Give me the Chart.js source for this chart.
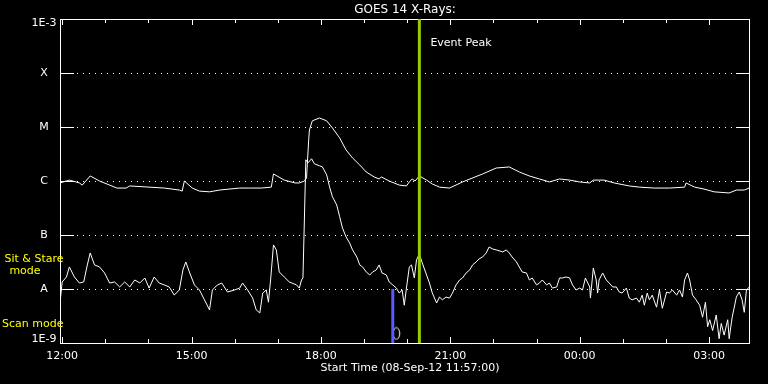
<!DOCTYPE html>
<html>
<head>
<meta charset="utf-8">
<script src="https://cdn.jsdelivr.net/npm/chart.js@4.4.1/dist/chart.umd.min.js"></script>
<style>
  html, body { margin: 0; padding: 0; background: #000; }
  canvas { display: block; }
</style>
</head>
<body>
<canvas id="goes" width="768" height="384"></canvas>
<script>
// time axis: minutes after 08-Sep-12 12:00 UT
var xMin = -3, xMax = 957;
var xHourTicks = [0, 60, 120, 180, 240, 300, 360, 420, 480, 540, 600, 660, 720, 780, 840, 900];
var xLabelMinutes = [0, 180, 360, 540, 720, 900];
var xTickLabels = ['12:00', '15:00', '18:00', '21:00', '00:00', '03:00'];

var yTickValues = [1e-9, 1e-8, 1e-7, 1e-6, 1e-5, 1e-4, 1e-3];
var yTickLabels = ['1E-9', 'A', 'B', 'C', 'M', 'X', '1E-3'];

// 1-8 A channel (upper curve)
var longTimes = [-3, 10, 24, 28, 39, 52, 66, 76, 89, 94, 121, 142, 163, 167, 170, 181, 191, 205, 219, 247,
  261, 277, 291, 294, 309, 324, 330, 337, 340, 343, 344, 348, 358, 368, 376, 386, 395, 404, 414, 423,
  434, 441, 444, 455, 469, 479, 483, 487, 491, 497, 507, 515, 525, 539, 557, 585, 604, 622, 636, 650,
  664, 678, 692, 706, 720, 734, 739, 754, 768, 789, 803, 824, 845, 866, 868, 880, 893, 907, 928, 938,
  949, 956];
var longFlux = [0.92e-6, 1.04e-6, 0.92e-6, 0.84e-6, 1.24e-6, 1.0e-6, 0.84e-6, 0.74e-6, 0.74e-6, 0.81e-6,
  0.77e-6, 0.74e-6, 0.68e-6, 0.65e-6, 1.0e-6, 0.74e-6, 0.65e-6, 0.63e-6, 0.68e-6, 0.74e-6,
  0.74e-6, 0.74e-6, 0.77e-6, 1.35e-6, 1.04e-6, 0.92e-6, 0.92e-6, 1.0e-6, 1.14e-6, 5.8e-6,
  8.8e-6, 1.3e-5, 1.47e-5, 1.3e-5, 9.6e-6, 6.3e-6, 3.76e-6, 2.67e-6, 1.98e-6, 1.47e-6,
  1.19e-6, 1.09e-6, 1.19e-6, 1.0e-6, 0.84e-6, 0.81e-6, 0.96e-6, 1.09e-6, 1.0e-6, 1.24e-6,
  1.04e-6, 0.88e-6, 0.77e-6, 0.74e-6, 0.96e-6, 1.35e-6, 1.74e-6, 1.82e-6, 1.47e-6, 1.24e-6,
  1.09e-6, 0.96e-6, 1.09e-6, 1.04e-6, 0.96e-6, 0.92e-6, 1.04e-6, 1.04e-6, 0.92e-6, 0.81e-6,
  0.77e-6, 0.74e-6, 0.74e-6, 0.77e-6, 0.92e-6, 0.77e-6, 0.71e-6, 0.63e-6, 0.60e-6, 0.68e-6,
  0.68e-6, 0.74e-6];

// 0.5-4 A channel (lower curve)
var shortTimes = [-3, 0, 6, 10, 17, 24, 30, 35, 39, 45, 52, 59, 66, 73, 80, 87, 94, 101, 108, 115,
  121, 128, 135, 142, 149, 156, 163, 168, 172, 177, 184, 191, 198, 205, 209, 216, 222, 230, 240, 247,
  251, 258, 265, 270, 275, 279, 284, 287, 290, 294, 298, 302, 309, 316, 326, 330, 333, 335, 337, 339,
  342, 347, 351, 358, 362, 368, 372, 376, 382, 386, 390, 395, 400, 404, 410, 414, 418, 423, 428, 432,
  437, 441, 445, 451, 455, 460, 465, 469, 473, 476, 479, 483, 486, 490, 493, 497, 501, 507, 511, 515,
  521, 525, 529, 534, 539, 543, 548, 553, 557, 562, 567, 571, 576, 580, 585, 590, 594, 599, 604, 613,
  618, 622, 626, 632, 636, 640, 646, 650, 654, 660, 664, 668, 674, 678, 682, 688, 692, 696, 701, 706,
  710, 715, 720, 724, 728, 734, 735, 739, 743, 745, 747, 752, 757, 761, 766, 771, 775, 779, 785, 789,
  793, 799, 803, 807, 810, 814, 817, 821, 827, 831, 835, 841, 845, 849, 855, 859, 863, 866, 870, 873,
  877, 882, 887, 891, 895, 898, 901, 905, 910, 914, 917, 921, 926, 928, 932, 938, 942, 946, 949, 952,
  956];
var shortFlux = [0.55e-8, 1.35e-8, 1.67e-8, 2.56e-8, 1.67e-8, 1.29e-8, 1.35e-8, 2.79e-8, 4.65e-8, 2.79e-8,
  2.56e-8, 1.98e-8, 1.29e-8, 1.35e-8, 1.09e-8, 1.35e-8, 1.09e-8, 1.47e-8, 1.29e-8, 1.6e-8,
  1.04e-8, 1.67e-8, 1.29e-8, 1.19e-8, 1.09e-8, 0.77e-8, 0.96e-8, 2.25e-8, 3.17e-8, 2.07e-8,
  1.19e-8, 0.96e-8, 0.63e-8, 0.41e-8, 0.96e-8, 1.19e-8, 1.29e-8, 0.88e-8, 0.96e-8, 1.04e-8,
  1.29e-8, 0.96e-8, 0.68e-8, 0.41e-8, 0.36e-8, 0.84e-8, 0.96e-8, 0.57e-8, 1.47e-8, 6.55e-8,
  5.29e-8, 2.07e-8, 1.67e-8, 1.35e-8, 1.19e-8, 1.04e-8, 1.47e-8, 1.6e-8, 1.9e-7, 2.47e-6,
  2.17e-6, 2.58e-6, 2.08e-6, 1.91e-6, 1.83e-6, 1.3e-6, 7.8e-7, 5.1e-7, 3.6e-7, 2.2e-7,
  1.35e-7, 9.2e-8, 7.1e-8, 5.3e-8, 3.9e-8, 2.8e-8, 2.56e-8, 2.07e-8, 1.82e-8, 2.07e-8,
  2.25e-8, 2.79e-8, 1.98e-8, 1.82e-8, 1.35e-8, 1.19e-8, 1.04e-8, 0.84e-8, 0.96e-8, 0.5e-8,
  1.04e-8, 2.56e-8, 2.79e-8, 1.6e-8, 3.45e-8, 4.46e-8, 3.03e-8, 1.82e-8, 1.29e-8, 0.84e-8,
  0.55e-8, 0.71e-8, 0.63e-8, 0.71e-8, 0.68e-8, 0.84e-8, 1.19e-8, 1.47e-8, 1.6e-8, 1.98e-8,
  2.25e-8, 2.79e-8, 3.17e-8, 3.6e-8, 3.92e-8, 4.65e-8, 6.0e-8, 5.5e-8, 5.3e-8, 4.86e-8,
  5.3e-8, 4.65e-8, 3.92e-8, 3.17e-8, 2.56e-8, 2.07e-8, 1.98e-8, 1.47e-8, 1.6e-8, 1.19e-8,
  1.29e-8, 1.47e-8, 1.19e-8, 1.29e-8, 1.04e-8, 1.09e-8, 1.6e-8, 1.6e-8, 1.67e-8, 1.6e-8,
  1.19e-8, 0.96e-8, 1.04e-8, 0.96e-8, 1.6e-8, 1.09e-8, 0.68e-8, 2.45e-8, 1.47e-8, 0.84e-8,
  1.47e-8, 1.98e-8, 1.47e-8, 1.29e-8, 1.09e-8, 1.09e-8, 0.88e-8, 0.84e-8, 1.04e-8, 0.68e-8,
  0.63e-8, 0.68e-8, 0.57e-8, 0.77e-8, 0.5e-8, 0.84e-8, 0.63e-8, 0.77e-8, 0.46e-8, 0.96e-8,
  0.44e-8, 0.88e-8, 0.84e-8, 0.96e-8, 0.77e-8, 0.96e-8, 0.71e-8, 1.47e-8, 1.98e-8, 1.47e-8,
  0.77e-8, 0.63e-8, 0.5e-8, 0.3e-8, 0.57e-8, 0.2e-8, 0.27e-8, 0.17e-8, 0.33e-8, 0.12e-8,
  0.23e-8, 0.14e-8, 0.27e-8, 0.12e-8, 0.29e-8, 0.71e-8, 0.88e-8, 0.63e-8, 0.37e-8, 0.96e-8,
  1.09e-8];

var peakTime = 497;          // event peak marker
var scanTime = 460;          // scan mode marker
var scanRange = [1e-9, 1e-8];
var ovalTime = 465, ovalFlux = 1.5e-9;

var FONT = '11px "DejaVu Sans"';

function pts(xs, ys) {
    return xs.map(function (t, i) { return { x: t, y: ys[i] }; });
}

// small oval used as point style
var oval = document.createElement('canvas');
oval.width = 9; oval.height = 14;
var octx = oval.getContext('2d');
octx.strokeStyle = '#fff';
octx.lineWidth = 1;
octx.beginPath();
octx.ellipse(4.5, 7, 3.3, 5.8, 0, 0, Math.PI * 2);
octx.stroke();

var framePlugin = {
    id: 'idlFrame',
    beforeDatasetsDraw: function (chart) {
        var ctx = chart.ctx, a = chart.chartArea;
        var xs = chart.scales.x, ys = chart.scales.y;
        ctx.save();
        ctx.strokeStyle = '#fff';
        ctx.lineWidth = 1;
        ctx.strokeRect(a.left + 0.5, a.top + 0.5, a.right - a.left - 1, a.bottom - a.top);

        // hourly ticks top and bottom
        ctx.beginPath();
        xHourTicks.forEach(function (t) {
            var px = Math.round(xs.getPixelForValue(t)) + 0.5;
            var len = (t % 180 === 0) ? 6 : 4;
            ctx.moveTo(px, a.top); ctx.lineTo(px, a.top + len);
            ctx.moveTo(px, a.bottom); ctx.lineTo(px, a.bottom - len);
        });
        ctx.stroke();

        // decade ticks and dotted lines
        yTickValues.forEach(function (v, i) {
            if (i === 0 || i === yTickValues.length - 1) return;
            var py = Math.round(ys.getPixelForValue(v)) + 0.5;
            ctx.setLineDash([]);
            ctx.beginPath();
            ctx.moveTo(a.left, py); ctx.lineTo(a.left + 14, py);
            ctx.moveTo(a.right - 14, py); ctx.lineTo(a.right, py);
            ctx.stroke();
            ctx.setLineDash([1, 5]);
            ctx.beginPath();
            ctx.moveTo(a.left + 17, py); ctx.lineTo(a.right - 14, py);
            ctx.stroke();
        });
        ctx.setLineDash([]);
        ctx.restore();
    },
    afterDraw: function (chart) {
        var ctx = chart.ctx, a = chart.chartArea;
        var xs = chart.scales.x, ys = chart.scales.y;
        ctx.save();
        ctx.font = FONT;
        ctx.fillStyle = '#fff';
        ctx.textBaseline = 'middle';
        ctx.textAlign = 'center';
        yTickValues.forEach(function (v, i) {
            var py = ys.getPixelForValue(v);
            py = Math.min(Math.max(py, a.top + 4), a.bottom - 4);
            ctx.fillText(yTickLabels[i], 44, py);
        });
        ctx.fillText('Start Time (08-Sep-12 11:57:00)', (a.left + a.right) / 2 + 5, 368);
        ctx.textAlign = 'left';
        ctx.fillText('Event Peak', xs.getPixelForValue(peakTime) + 11, 43);
        ctx.font = '12px "DejaVu Sans"';
        ctx.textAlign = 'center';
        ctx.fillText('GOES 14 X-Rays:', (a.left + a.right) / 2, 10);

        ctx.font = FONT;
        ctx.fillStyle = '#ffff00';
        ctx.fillText('Sit & Stare', 34, 259);
        ctx.fillText('mode', 25, 271);
        ctx.textAlign = 'left';
        ctx.fillText('Scan mode', 2, 324);
        ctx.restore();
    }
};

new Chart(document.getElementById('goes').getContext('2d'), {
    type: 'line',
    data: {
        datasets: [{
            label: 'Event Peak',
            data: [{ x: peakTime, y: 1e-9 }, { x: peakTime, y: 1e-3 }],
            borderColor: '#99cc00',
            borderWidth: 3,
            pointRadius: 0,
            order: 0
        }, {
            label: 'Scan',
            data: [{ x: scanTime, y: scanRange[0] }, { x: scanTime, y: scanRange[1] }],
            borderColor: '#5a5aff',
            borderWidth: 3,
            pointRadius: 0,
            order: 1
        }, {
            label: 'oval',
            data: [{ x: ovalTime, y: ovalFlux }],
            showLine: false,
            pointStyle: oval,
            pointRadius: 6,
            order: 1
        }, {
            label: '1-8 A',
            data: pts(longTimes, longFlux),
            borderColor: '#fff',
            borderWidth: 1,
            pointRadius: 0,
            tension: 0,
            order: 2
        }, {
            label: '0.5-4 A',
            data: pts(shortTimes, shortFlux),
            borderColor: '#fff',
            borderWidth: 1,
            pointRadius: 0,
            tension: 0,
            order: 2
        }]
    },
    options: {
        responsive: false,
        animation: false,
        devicePixelRatio: 1,
        layout: { padding: { top: 19, right: 18, left: 0, bottom: 0 } },
        plugins: { legend: { display: false }, tooltip: { enabled: false } },
        scales: {
            x: {
                type: 'linear',
                min: xMin,
                max: xMax,
                grid: { display: false, drawTicks: false },
                border: { display: false },
                afterFit: function (s) { s.height = 41; },
                afterBuildTicks: function (s) {
                    s.ticks = xLabelMinutes.map(function (v) { return { value: v }; });
                },
                ticks: {
                    color: '#fff',
                    font: { family: 'DejaVu Sans', size: 11 },
                    padding: 7,
                    maxRotation: 0,
                    autoSkip: false,
                    callback: function (v, i) { return xTickLabels[i]; }
                }
            },
            y: {
                type: 'logarithmic',
                min: 1e-9,
                max: 1e-3,
                grid: { display: false },
                border: { display: false },
                ticks: { display: false },
                afterFit: function (s) { s.width = 60; }
            }
        }
    },
    plugins: [framePlugin]
});
</script>
</body>
</html>
